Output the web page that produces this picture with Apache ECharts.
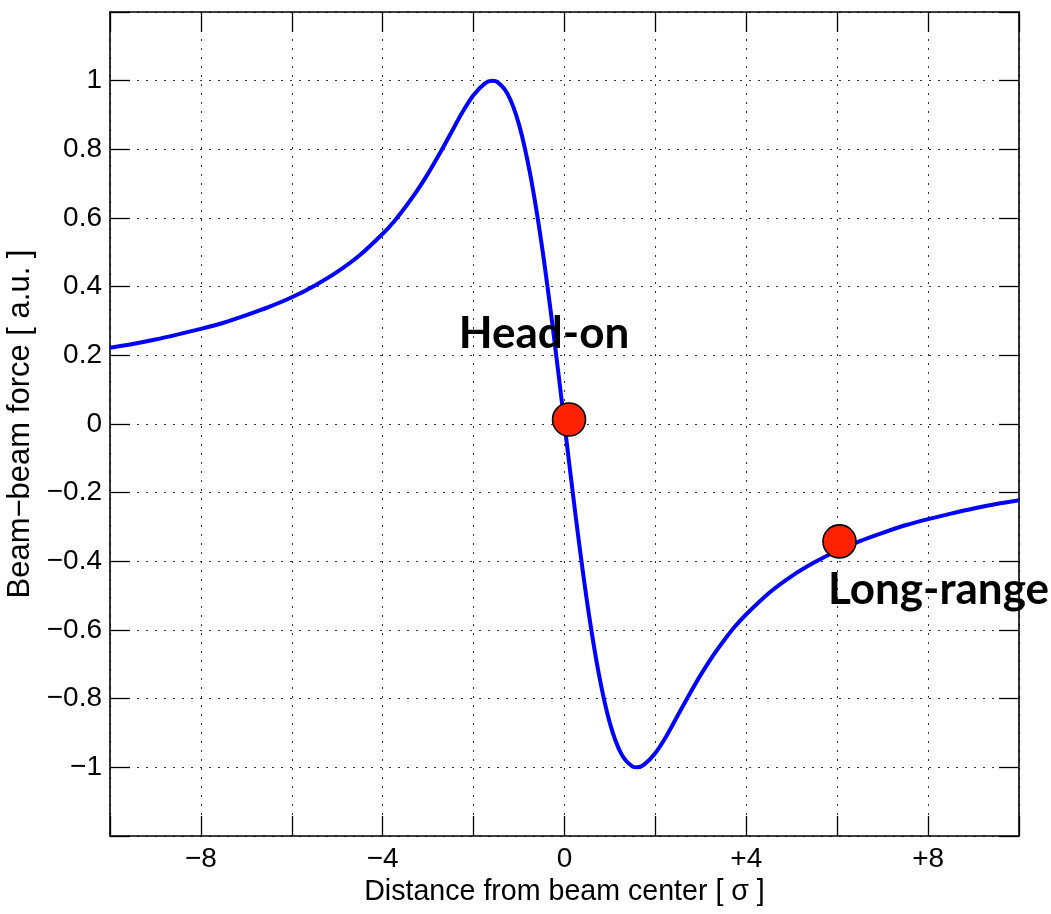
<!DOCTYPE html>
<html><head><meta charset="utf-8">
<script src="https://cdn.jsdelivr.net/npm/echarts@6/dist/echarts.min.js"></script>
<style>html,body{margin:0;padding:0;background:#fff}#c{width:1051px;height:914px}</style>
</head><body><div id="c"></div>
<script>
// Curve samples (distance in sigma, normalised force)
const xValues = [-10,-9.5,-9,-8.5,-8,-7.5,-7,-6.5,-6,-5.5,-5,-4.5,-4,-3.75,-3.5,-3.25,-3,-2.75,-2.5,-2.25,-2,-1.75,-1.6,-1.5,-1.25,-1,-0.75,-0.5,-0.25,0,0.25,0.5,0.75,1,1.25,1.5,1.6,1.75,2,2.25,2.5,2.75,3,3.25,3.5,3.75,4,4.5,5,5.5,6,6.5,7,7.5,8,8.5,9,9.5,10];
const yValues = [0.222,0.233,0.246,0.261,0.277,0.295,0.317,0.341,0.369,0.403,0.443,0.492,0.554,0.590,0.632,0.678,0.730,0.787,0.847,0.907,0.958,0.992,1.000,0.998,0.961,0.872,0.724,0.521,0.273,0,-0.273,-0.521,-0.724,-0.872,-0.961,-0.998,-1.000,-0.992,-0.958,-0.907,-0.847,-0.787,-0.730,-0.678,-0.632,-0.590,-0.554,-0.492,-0.443,-0.403,-0.369,-0.341,-0.317,-0.295,-0.277,-0.261,-0.246,-0.233,-0.222];
const markerNames = ['Head-on','Long-range'];
const markerX = [0.10, 6.05];
const markerY = [0.013, -0.342];
const xTickValues = [-8,-4,0,4,8];
const xTickTexts = ['\u22128','\u22124','0','+4','+8'];
const yTickValues = [-1,-0.8,-0.6,-0.4,-0.2,0,0.2,0.4,0.6,0.8,1];
const yTickTexts = ['\u22121','\u22120.8','\u22120.6','\u22120.4','\u22120.2','0','0.2','0.4','0.6','0.8','1'];
const xTitle = 'Distance from beam center [ \u03c3 ]';
const yTitle = 'Beam\u2212beam force [ a.u. ]';

function lookup(vals, texts, v) {
  for (let i = 0; i < vals.length; i++) if (Math.abs(vals[i] - v) < 1e-6) return texts[i];
  return '';
}

const FONT = 'Liberation Sans';
const tick = {show: true, inside: true, length: 20, lineStyle: {color: '#000', width: 1.3}};
const frame = {show: true, onZero: false, lineStyle: {color: '#000', width: 1.6}};
const grid = {show: true, lineStyle: {color: '#333', width: 1, type: [2, 7]}};

const chart = echarts.init(document.getElementById('c'), null, {renderer: 'canvas'});
chart.setOption({
  animation: false,
  backgroundColor: '#fff',
  grid: {left: 110, right: 32, top: 12, bottom: 78, containLabel: false, outerBoundsMode: 'none'},
  xAxis: [{
    type: 'value', min: -10, max: 10, interval: 2, position: 'bottom',
    axisLine: frame, axisTick: tick, splitLine: grid,
    axisLabel: {margin: 9, fontFamily: FONT, fontSize: 28, color: '#000',
      formatter: v => lookup(xTickValues, xTickTexts, v)},
    name: xTitle, nameLocation: 'middle', nameGap: 42,
    nameTextStyle: {fontFamily: FONT, fontSize: 28.6, color: '#000'}
  }, {
    type: 'value', min: -10, max: 10, interval: 2, position: 'top',
    axisLine: frame, axisTick: tick, splitLine: {show: false}, axisLabel: {show: false}
  }],
  yAxis: [{
    type: 'value', min: -1.2, max: 1.2, interval: 0.2, position: 'left',
    axisLine: frame, axisTick: tick, splitLine: grid,
    axisLabel: {margin: 8, fontFamily: FONT, fontSize: 28, color: '#000',
      formatter: v => lookup(yTickValues, yTickTexts, v)},
    name: yTitle, nameLocation: 'middle', nameGap: 71, nameRotate: 90,
    nameTextStyle: {fontFamily: FONT, fontSize: 31, color: '#000'}
  }, {
    type: 'value', min: -1.2, max: 1.2, interval: 0.2, position: 'right',
    axisLine: frame, axisTick: tick, splitLine: {show: false}, axisLabel: {show: false}
  }],
  series: [{
    type: 'line', xAxisIndex: 0, yAxisIndex: 0,
    data: xValues.map((x, i) => [x, yValues[i]]),
    showSymbol: false, smooth: 0.3,
    lineStyle: {color: '#0000ff', width: 4}, z: 3
  }, {
    type: 'scatter', xAxisIndex: 0, yAxisIndex: 0,
    symbol: 'circle', symbolSize: 33,
    itemStyle: {color: '#ff2200', borderColor: '#000', borderWidth: 1.6, opacity: 1},
    z: 4,
    data: markerNames.map((n, i) => ({
      name: n, value: [markerX[i], markerY[i]],
      label: {show: true, position: 'inside', formatter: n,
        offset: i === 0 ? [-25, -86] : [99, 48],
        fontFamily: 'Lato', fontWeight: 'bold', fontSize: 44, color: '#000'}
    }))
  }]
});
</script></body></html>
